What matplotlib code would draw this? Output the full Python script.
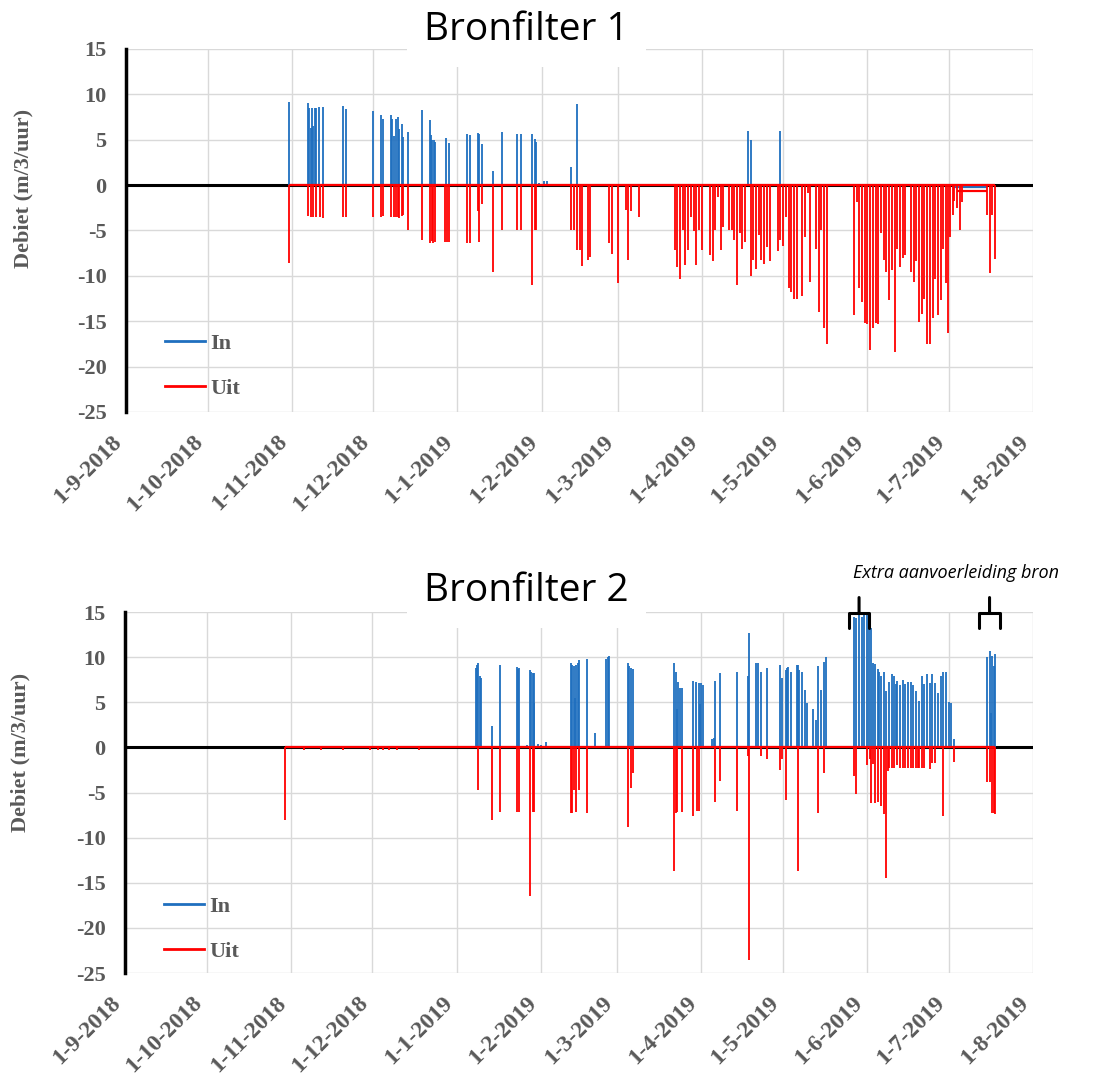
import matplotlib
matplotlib.use('Agg')
import matplotlib.pyplot as plt
import matplotlib.dates as mdates
from matplotlib.ticker import FuncFormatter, MultipleLocator
import pandas as pd

plt.rcParams['axes.unicode_minus'] = False

# ---------- data ----------
# Bronfilter 1
bf1_in_dates = ['2018-10-31', '2018-11-07', '2018-11-07 12:00', '2018-11-08', '2018-11-08 12:00',
                '2018-11-09', '2018-11-09 12:00', '2018-11-10', '2018-11-11', '2018-11-12 12:00',
                '2018-11-20', '2018-11-21', '2018-12-01', '2018-12-04', '2018-12-04 18:00',
                '2018-12-07 12:00', '2018-12-08', '2018-12-08 12:00', '2018-12-09 12:00', '2018-12-10',
                '2018-12-10 12:00', '2018-12-11 12:00', '2018-12-12', '2018-12-14', '2018-12-19',
                '2018-12-21 18:00', '2018-12-22 06:00', '2018-12-22 18:00', '2018-12-23 06:00',
                '2018-12-23 18:00', '2018-12-28', '2018-12-29', '2019-01-04 12:00', '2019-01-05 12:00',
                '2019-01-08 12:00', '2019-01-09', '2019-01-10', '2019-01-14', '2019-01-17 12:00',
                '2019-01-23', '2019-01-24 12:00', '2019-01-28 12:00', '2019-01-29 12:00', '2019-01-30',
                '2019-01-31', '2019-02-02', '2019-02-03', '2019-02-12', '2019-02-14',
                '2019-04-18', '2019-04-19', '2019-04-30']
bf1_in_vals = [9.2, 9.0, 8.5, 6.3, 8.5,
               6.5, 8.5, 8.5, 8.6, 8.6,
               8.7, 8.4, 8.2, 7.7, 7.3,
               7.7, 7.3, 5.4, 7.3, 7.5,
               6.2, 6.7, 5.3, 5.8, 8.3,
               7.2, 5.5, 5.0, 5.0,
               4.7, 5.2, 4.6, 5.6, 5.5,
               5.7, 5.6, 4.5, 1.5, 5.8,
               5.6, 5.6, 5.6, 5.1, 4.7,
               0.2, 0.4, 0.4, 2.0, 8.9,
               6.0, 5.0, 6.0]

bf1_uit_dates = ['2018-10-31', '2018-11-07', '2018-11-08', '2018-11-09', '2018-11-10',
                 '2018-11-11 12:00', '2018-11-12 12:00', '2018-11-20', '2018-11-21', '2018-12-01',
                 '2018-12-04', '2018-12-04 18:00', '2018-12-07 12:00', '2018-12-08 12:00',
                 '2018-12-09 12:00', '2018-12-10', '2018-12-10 12:00', '2018-12-11 12:00', '2018-12-12',
                 '2018-12-14', '2018-12-19', '2018-12-21 18:00', '2018-12-22 12:00', '2018-12-23',
                 '2018-12-23 18:00', '2018-12-27 12:00', '2018-12-28 06:00', '2018-12-29',
                 '2019-01-04 12:00', '2019-01-05 12:00', '2019-01-08 12:00', '2019-01-09', '2019-01-10',
                 '2019-01-14', '2019-01-17 12:00', '2019-01-23', '2019-01-24 12:00', '2019-01-28 12:00',
                 '2019-01-29 12:00', '2019-01-30', '2019-02-12', '2019-02-13', '2019-02-14',
                 '2019-02-15', '2019-02-16', '2019-02-18', '2019-02-19', '2019-02-26', '2019-02-27',
                 '2019-03-01', '2019-03-04', '2019-03-05', '2019-03-06', '2019-03-09',
                 '2019-03-22', '2019-03-23', '2019-03-24', '2019-03-25', '2019-03-26', '2019-03-27',
                 '2019-03-28', '2019-03-29', '2019-03-30', '2019-03-31', '2019-04-01', '2019-04-04',
                 '2019-04-05', '2019-04-06', '2019-04-07', '2019-04-08', '2019-04-09', '2019-04-11',
                 '2019-04-12', '2019-04-13', '2019-04-14', '2019-04-15', '2019-04-16', '2019-04-17',
                 '2019-04-19', '2019-04-20', '2019-04-21', '2019-04-22', '2019-04-23', '2019-04-24',
                 '2019-04-25', '2019-04-26', '2019-04-29', '2019-04-30', '2019-05-01', '2019-05-02',
                 '2019-05-03', '2019-05-04', '2019-05-05', '2019-05-06', '2019-05-08', '2019-05-09',
                 '2019-05-10', '2019-05-11', '2019-05-13', '2019-05-14', '2019-05-15', '2019-05-16',
                 '2019-05-17', '2019-05-27', '2019-05-28', '2019-05-29', '2019-05-30', '2019-05-31',
                 '2019-06-01', '2019-06-02', '2019-06-03', '2019-06-04', '2019-06-05', '2019-06-06',
                 '2019-06-07', '2019-06-08', '2019-06-09', '2019-06-10', '2019-06-11', '2019-06-12',
                 '2019-06-13', '2019-06-14', '2019-06-15', '2019-06-17', '2019-06-18', '2019-06-19',
                 '2019-06-20', '2019-06-21', '2019-06-22', '2019-06-23', '2019-06-24', '2019-06-25',
                 '2019-06-26', '2019-06-27', '2019-06-28', '2019-06-29', '2019-06-30', '2019-06-30 18:00',
                 '2019-07-01 12:00', '2019-07-02 12:00', '2019-07-03', '2019-07-04', '2019-07-05',
                 '2019-07-06', '2019-07-15', '2019-07-16', '2019-07-17', '2019-07-18']
bf1_uit_vals = [-8.6, -3.4, -3.5, -3.5, -3.5,
                -3.5, -3.6, -3.5, -3.5, -3.5,
                -3.5, -3.4, -3.5, -3.5,
                -3.5, -3.5, -3.6, -3.4, -3.3,
                -4.9, -6.0, -6.4, -6.2, -6.4,
                -6.3, -6.3, -6.3, -6.3,
                -6.4, -6.4, -2.9, -6.3, -2.1,
                -9.6, -4.9, -5.0, -5.0, -11.0,
                -5.0, -4.9, -4.9, -4.9, -7.2,
                -7.2, -8.9, -8.2, -7.9, -6.4, -7.6,
                -10.8, -2.7, -8.3, -2.9, -3.5,
                -7.1, -9.0, -10.3, -4.9, -8.8, -7.1,
                -3.5, -5.1, -8.8, -5.0, -7.1, -7.7,
                -8.4, -5.0, -1.3, -7.1, -4.6, -4.9,
                -5.0, -6.0, -11.0, -5.3, -7.0, -6.3,
                -10.0, -8.3, -9.3, -5.5, -8.3, -8.7,
                -6.8, -8.4, -7.3, -6.0, -6.7, -3.5,
                -11.3, -11.8, -12.5, -12.5, -12.2, -5.7,
                -0.9, -10.7, -7.0, -14.0, -4.9, -15.7,
                -17.5, -14.3, -1.9, -11.3, -12.9, -15.2,
                -15.3, -18.2, -15.8, -15.2, -15.3, -5.3,
                -8.3, -9.6, -12.7, -9.4, -18.4, -7.0,
                -9.0, -8.0, -7.7, -9.6, -10.7, -8.4,
                -15.1, -14.2, -12.5, -17.5, -17.5, -14.6,
                -10.3, -14.3, -12.7, -7.0, -10.8, -16.3,
                -5.7, -3.3, -1.7, -2.5, -4.9,
                -1.9, -3.3, -9.7, -3.3, -8.1]

# low steady flow in July (start, end, level)
bf1_in_flat = ['2019-07-03', '2019-07-15', -0.2]
bf1_uit_flat = ['2019-07-04', '2019-07-15', -0.7]

# Bronfilter 2
bf2_in_dates = ['2019-01-08', '2019-01-08 12:00', '2019-01-09', '2019-01-09 12:00', '2019-01-10',
                '2019-01-14', '2019-01-17', '2019-01-23', '2019-01-23 12:00', '2019-01-24',
                '2019-01-27', '2019-01-28', '2019-01-28 12:00', '2019-01-29', '2019-01-29 06:00',
                '2019-01-29 12:00', '2019-01-31', '2019-02-01', '2019-02-03',
                '2019-02-12', '2019-02-12 12:00', '2019-02-13', '2019-02-13 12:00', '2019-02-14',
                '2019-02-14 12:00', '2019-02-15', '2019-02-18', '2019-02-21', '2019-02-25',
                '2019-02-25 12:00', '2019-02-26',
                '2019-03-05', '2019-03-05 12:00', '2019-03-06', '2019-03-07',
                '2019-03-22', '2019-03-22 12:00', '2019-03-23', '2019-03-23 12:00', '2019-03-24',
                '2019-03-25', '2019-03-29', '2019-03-30', '2019-03-31', '2019-03-31 12:00',
                '2019-04-01', '2019-04-01 12:00', '2019-04-05', '2019-04-05 12:00', '2019-04-06',
                '2019-04-08', '2019-04-14', '2019-04-18', '2019-04-18 12:00', '2019-04-21',
                '2019-04-22', '2019-04-23', '2019-04-25',
                '2019-04-30', '2019-04-30 12:00', '2019-05-02', '2019-05-02 12:00', '2019-05-03',
                '2019-05-04', '2019-05-06', '2019-05-06 12:00', '2019-05-07', '2019-05-08',
                '2019-05-09', '2019-05-10', '2019-05-12', '2019-05-13', '2019-05-14', '2019-05-15',
                '2019-05-16', '2019-05-17',
                '2019-05-27', '2019-05-28', '2019-05-29', '2019-05-30', '2019-05-31', '2019-06-01',
                '2019-06-01 18:00', '2019-06-02 12:00', '2019-06-03', '2019-06-04', '2019-06-05',
                '2019-06-05 12:00', '2019-06-06', '2019-06-07', '2019-06-08', '2019-06-09',
                '2019-06-10', '2019-06-11', '2019-06-11 12:00', '2019-06-12', '2019-06-13',
                '2019-06-14', '2019-06-15', '2019-06-16', '2019-06-17', '2019-06-18', '2019-06-19',
                '2019-06-20', '2019-06-21', '2019-06-22', '2019-06-23', '2019-06-24', '2019-06-25',
                '2019-06-26', '2019-06-27', '2019-06-28', '2019-06-29', '2019-06-30', '2019-07-01',
                '2019-07-02', '2019-07-03',
                '2019-07-15', '2019-07-16', '2019-07-16 12:00', '2019-07-17', '2019-07-17 12:00',
                '2019-07-18']
bf2_in_vals = [8.8, 9.1, 9.3, 7.9, 7.7,
               2.4, 9.1, 8.9, 8.7, 8.8,
               0.3, 8.6, 8.3, 8.2, 4.9,
               8.2, 0.4, 0.3, 0.6,
               9.3, 9.1, 9.0, 5.5, 9.1,
               9.4, 9.7, 9.8, 1.6, 9.8,
               10.0, 10.1,
               9.3, 9.0, 8.8, 8.7,
               9.3, 8.4, 4.2, 7.3, 6.6,
               6.6, 7.4, 7.3, 7.1, 4.8,
               7.1, 6.9, 0.9, 1.0, 7.4,
               8.2, 8.3, 7.9, 12.7, 9.4,
               9.4, 8.4, 8.8,
               9.1, 7.7, 8.6, 8.8, 8.9,
               8.4, 9.1, 9.1, 8.6, 8.3,
               6.4, 4.9, 4.2, 3.0, 9.0, 6.4,
               9.5, 10.0,
               14.5, 14.3, 14.7, 14.5, 14.7, 14.9,
               14.8, 13.2, 9.3, 9.2, 8.7,
               8.4, 7.9, 8.3, 6.3, 7.2,
               8.1, 7.9, 7.0, 7.4, 6.9,
               7.5, 7.0, 7.2, 7.3, 6.9, 6.3,
               5.1, 7.9, 7.0, 8.1, 7.1, 8.1,
               7.1, 6.0, 7.9, 8.3, 8.3, 5.0,
               4.9, 0.9,
               10.0, 10.7, 3.8, 10.1, 9.0,
               10.4]

bf2_uit_dates = ['2018-10-30', '2018-11-06', '2018-11-12', '2018-11-20', '2018-11-30', '2018-12-03',
                 '2018-12-05', '2018-12-07', '2018-12-10', '2018-12-18',
                 '2019-01-09', '2019-01-14', '2019-01-17', '2019-01-23', '2019-01-24', '2019-01-28',
                 '2019-01-29', '2019-01-29 12:00',
                 '2019-02-12', '2019-02-12 12:00', '2019-02-13', '2019-02-14', '2019-02-15',
                 '2019-02-18', '2019-03-05', '2019-03-06', '2019-03-07',
                 '2019-03-22', '2019-03-22 12:00', '2019-03-23', '2019-03-25', '2019-03-29',
                 '2019-03-30 12:00', '2019-03-31', '2019-04-06', '2019-04-08', '2019-04-14',
                 '2019-04-18', '2019-04-18 12:00', '2019-04-23', '2019-04-25', '2019-04-30',
                 '2019-04-30 12:00', '2019-05-02', '2019-05-06 12:00', '2019-05-14', '2019-05-16',
                 '2019-05-27', '2019-05-28', '2019-06-01', '2019-06-02', '2019-06-02 12:00',
                 '2019-06-03', '2019-06-04', '2019-06-05', '2019-06-06', '2019-06-07', '2019-06-08',
                 '2019-06-08 12:00', '2019-06-09', '2019-06-10', '2019-06-11', '2019-06-12',
                 '2019-06-13', '2019-06-14', '2019-06-15', '2019-06-16', '2019-06-17', '2019-06-18',
                 '2019-06-19', '2019-06-19 18:00', '2019-06-20', '2019-06-21', '2019-06-22',
                 '2019-06-24', '2019-06-25', '2019-06-26', '2019-06-29', '2019-07-03',
                 '2019-07-15', '2019-07-16', '2019-07-16 18:00', '2019-07-17 12:00', '2019-07-18']
bf2_uit_vals = [-8.0, -0.3, -0.3, -0.3, -0.3, -0.3,
                -0.3, -0.3, -0.3, -0.3,
                -4.7, -8.0, -7.2, -7.2, -7.2, -16.5,
                -7.2, -7.2,
                -7.3, -7.3, -4.7, -7.2, -4.7,
                -7.3, -8.8, -4.5, -2.8,
                -13.7, -7.3, -7.2, -7.2, -7.6,
                -7.0, -7.0, -6.1, -3.7, -7.0,
                -1.0, -23.5, -1.0, -1.3, -2.5,
                -1.3, -5.8, -13.7, -7.3, -2.8,
                -3.2, -5.2, -2.0, -1.3, -6.2,
                -1.8, -6.2, -6.1, -6.5, -7.4, -14.5,
                -2.6, -2.3, -2.3, -2.3, -2.0,
                -2.3, -2.3, -2.3, -2.3, -2.3, -2.3,
                -2.3, -2.3, -2.3, -2.3, -2.3,
                -2.4, -1.7, -1.7, -7.6, -1.6,
                -3.8, -3.8, -7.3, -7.3, -7.4]

month_ticks = pd.date_range('2018-09-01', '2019-08-01', freq='MS')
ylim = (-25, 15)

BLUE = '#1f6fbf'
RED = '#ff0000'
GREY = '#595959'
GRID = '#d9d9d9'
SERIF = 'Liberation Serif'


def to_dates(strings):
    return pd.to_datetime(strings, format='mixed')


fig = plt.figure(figsize=(10.97, 10.79), dpi=100)
ax1 = fig.add_axes([0.1149, 0.6182, 0.8268, 0.3364])
ax2 = fig.add_axes([0.1140, 0.0982, 0.8277, 0.3346])


def draw_panel(ax, in_dates, in_vals, uit_dates, uit_vals):
    in_d = to_dates(in_dates)
    uit_d = to_dates(uit_dates)
    ax.axhline(0, color='black', lw=2.2, zorder=2)
    ax.vlines(in_d, 0, in_vals, color=BLUE, lw=1.3, zorder=3)
    ax.vlines(uit_d, 0, uit_vals, color=RED, lw=1.3, zorder=4)
    ax.hlines(0, uit_d.min(), uit_d.max(), color=RED, lw=1.6, zorder=5)
    # legend handles
    ax.plot([], [], color=BLUE, lw=2, label='In')
    ax.plot([], [], color=RED, lw=2, label='Uit')

    ax.set_xlim(month_ticks[0], month_ticks[-1])
    ax.set_ylim(*ylim)
    ax.set_xticks(month_ticks)
    ax.xaxis.set_major_formatter(FuncFormatter(
        lambda v, pos: f'{mdates.num2date(v).day}-{mdates.num2date(v).month}-{mdates.num2date(v).year}'))
    ax.yaxis.set_major_locator(MultipleLocator(5))
    ax.grid(True, color=GRID, lw=1.0, zorder=0)
    ax.set_axisbelow(True)
    for s in ['top', 'right', 'bottom']:
        ax.spines[s].set_visible(False)
    ax.spines['left'].set_linewidth(2.5)
    ax.spines['left'].set_zorder(6)
    ax.tick_params(axis='y', length=0, pad=14, labelsize=16, labelcolor=GREY)
    ax.tick_params(axis='x', length=0, pad=14, labelsize=17, labelcolor=GREY)
    for lab in ax.get_yticklabels():
        lab.set_fontfamily(SERIF)
        lab.set_fontweight('bold')
    for lab in ax.get_xticklabels():
        lab.set_fontfamily(SERIF)
        lab.set_fontweight('bold')
        lab.set_rotation(45)
        lab.set_ha('right')
        lab.set_va('top')
        lab.set_rotation_mode('default')
    ax.set_ylabel('Debiet (m/3/uur)', fontfamily=SERIF, fontweight='bold', fontsize=16, color=GREY)
    leg = ax.legend(loc='center left', frameon=False, borderpad=0, borderaxespad=0,
                    handlelength=1.8, handletextpad=0.25, labelspacing=1.1,
                    prop={'family': SERIF, 'weight': 'bold', 'size': 16})
    for t in leg.get_texts():
        t.set_color(GREY)
    return leg


leg1 = draw_panel(ax1, bf1_in_dates, bf1_in_vals, bf1_uit_dates, bf1_uit_vals)
leg1.set_bbox_to_anchor((0.043, 0.127), transform=ax1.transAxes)
ax1.hlines(bf1_in_flat[2], pd.Timestamp(bf1_in_flat[0]), pd.Timestamp(bf1_in_flat[1]), color=BLUE, lw=1.6, zorder=3)
ax1.hlines(bf1_uit_flat[2], pd.Timestamp(bf1_uit_flat[0]), pd.Timestamp(bf1_uit_flat[1]), color=RED, lw=1.6, zorder=4)
ax1.yaxis.set_label_coords(-0.1025, 0.617)

leg2 = draw_panel(ax2, bf2_in_dates, bf2_in_vals, bf2_uit_dates, bf2_uit_vals)
leg2.set_bbox_to_anchor((0.043, 0.122), transform=ax2.transAxes)
ax2.yaxis.set_label_coords(-0.104, 0.61)

# titles in white boxes over the top grid line
title_box = dict(facecolor='white', edgecolor='none', boxstyle='square,pad=0.45')
fig.text(0.48, 0.972, 'Bronfilter 1', ha='center', va='center', fontsize=28,
         family='Open Sans', bbox=title_box)
fig.text(0.48, 0.452, 'Bronfilter 2', ha='center', va='center', fontsize=28,
         family='Open Sans', bbox=title_box)

# extra supply line annotation
fig.text(0.778, 0.469, 'Extra aanvoerleiding bron', ha='left', va='center', fontsize=13,
         family='Open Sans', style='italic')
for d in ['2019-05-29', '2019-07-16']:
    ax2.annotate('', xy=(pd.Timestamp(d), 14.9), xytext=(pd.Timestamp(d), 16.6),
                 arrowprops=dict(arrowstyle='-[, widthB=0.75, lengthB=1.1', lw=2.2, color='black',
                                 shrinkA=0, shrinkB=0),
                 annotation_clip=False)

fig.savefig('out.png', dpi=100)
